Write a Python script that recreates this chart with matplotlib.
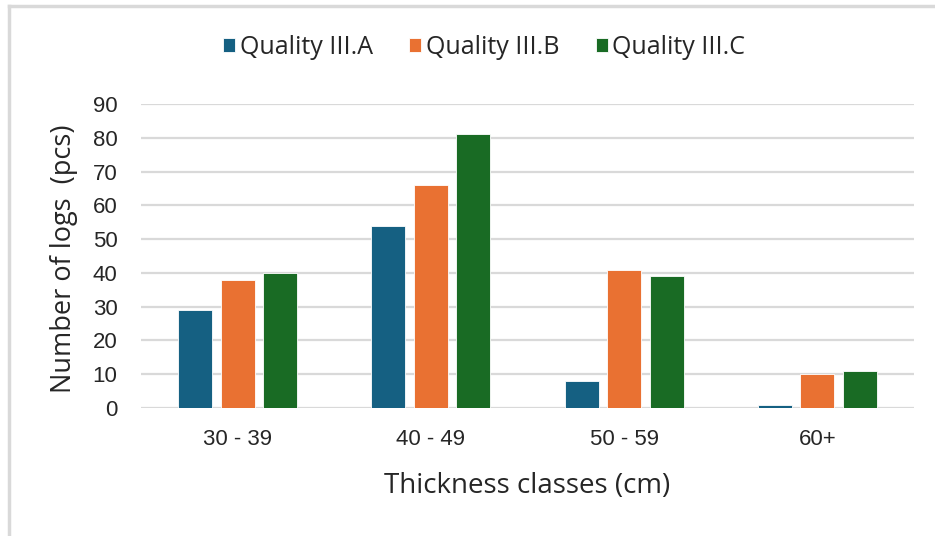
import matplotlib
matplotlib.use("Agg")
import matplotlib.pyplot as plt
import numpy as np
from matplotlib.lines import Line2D

plt.rcParams['font.family'] = ['Open Sans', 'DejaVu Sans']

categories = ["30 - 39", "40 - 49", "50 - 59", "60+"]
series_names = ["Quality III.A", "Quality III.B", "Quality III.C"]
quality_a = [29, 54, 8, 1]
quality_b = [38, 66, 41, 10]
quality_c = [40, 81, 39, 11]
y_ticks = [0, 10, 20, 30, 40, 50, 60, 70, 80, 90]

colors = ["#156082", "#E97132", "#196B24"]
grid_color = "#D9D9D9"
text_color = "#262626"

W, H = 935, 536
fig = plt.figure(figsize=(W / 100, H / 100), dpi=100)
ax = fig.add_axes([141 / W, 1 - 408 / H, (914 - 141) / W, (408 - 104) / H])

x = np.arange(len(categories))
offset = 0.22
width = 0.176
for i, (vals, name) in enumerate(zip([quality_a, quality_b, quality_c], series_names)):
    ax.bar(x + (i - 1) * offset, vals, width, color=colors[i], label=name,
           edgecolor="white", linewidth=0.6, zorder=3)

ax.set_xlim(-0.5, len(categories) - 0.5)
ax.set_ylim(0, 90)
ax.set_yticks(y_ticks)
ax.set_xticks(x)
ax.set_xticklabels(categories)
ax.yaxis.grid(True, color=grid_color, linewidth=1.6, zorder=0)
ax.set_axisbelow(True)
for s in ax.spines.values():
    s.set_visible(False)
ax.tick_params(axis="both", length=0, colors=text_color)
for lbl in ax.get_xticklabels() + ax.get_yticklabels():
    lbl.set_fontfamily(["Liberation Sans", "DejaVu Sans"])
    lbl.set_fontsize(16)
ax.tick_params(axis="y", pad=17)
ax.tick_params(axis="x", pad=15)

ax.set_ylabel("Number of logs  (pcs)", fontsize=19.5, color=text_color)
ax.yaxis.set_label_coords(-0.0815, 0.49)
ax.set_xlabel("Thickness classes (cm)", fontsize=20, color=text_color)
ax.xaxis.set_label_coords(0.5, -0.21)

handles, labels = ax.get_legend_handles_labels()
fig.legend(handles, labels, loc="center", bbox_to_anchor=(484 / W, 1 - 47 / H),
           ncol=3, frameon=False, fontsize=18, handlelength=0.48, handleheight=0.48,
           handletextpad=0.2, columnspacing=1.45, labelcolor=text_color)

# outer frame edges
fig.add_artist(Line2D([9 / W, 9 / W], [0, 1 - 6 / H], transform=fig.transFigure,
                      color=grid_color, linewidth=2.5))
fig.add_artist(Line2D([9 / W, 1], [1 - 6 / H, 1 - 6 / H], transform=fig.transFigure,
                      color=grid_color, linewidth=2.5))

fig.savefig("out.png", dpi=100)
